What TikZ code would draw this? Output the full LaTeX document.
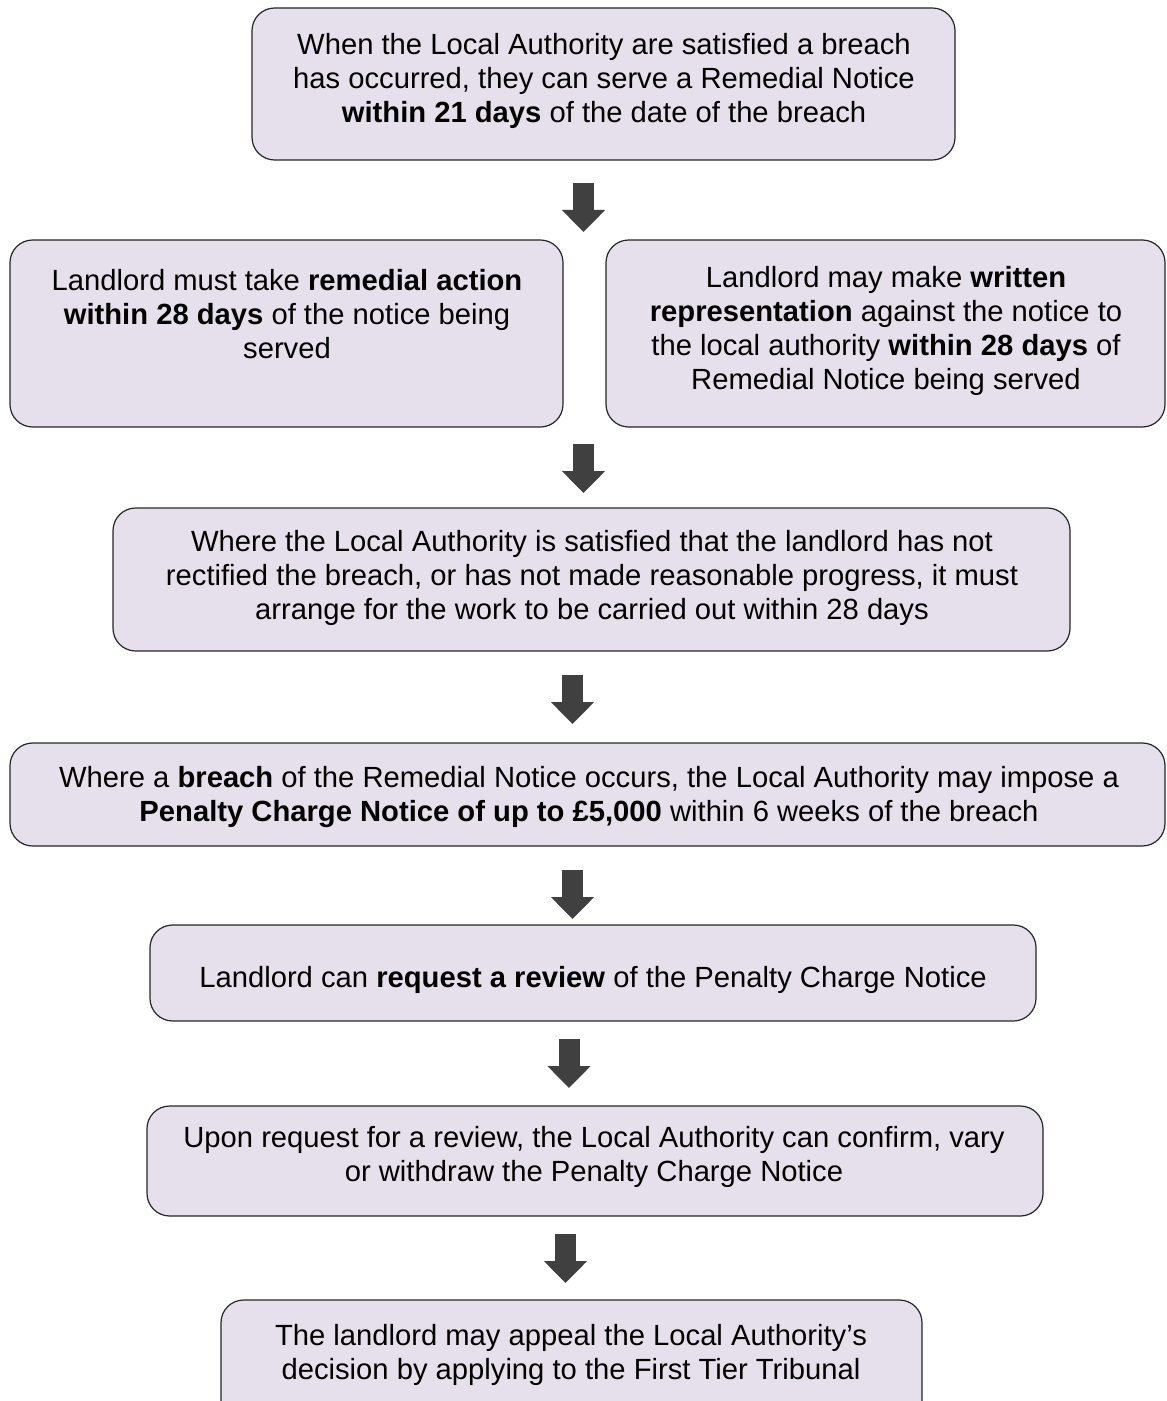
\documentclass[tikz,border=0pt]{standalone}
\usepackage{fontspec}
\setmainfont{Liberation Sans}
\usetikzlibrary{arrows.meta}
\definecolor{boxfill}{HTML}{E5E0EC}
\definecolor{arrowgray}{HTML}{404040}
\tikzset{
  flowbox/.style={draw=black!85, line width=0.9pt, fill=boxfill, rounded corners=17pt, inner sep=0pt},
  flowtext/.style={align=center, font=\fontsize{21.9pt}{25.5pt}\selectfont, inner sep=0pt},
  blockarrow/.style={line width=15.75pt, draw=arrowgray, fill=arrowgray, -{Triangle[length=16.5pt,width=31.5pt]}}
}
\begin{document}
\begin{tikzpicture}[x=0.75pt,y=-0.75pt]
\useasboundingbox (0,0) rectangle (1166,1401);
% boxes
\node[flowbox, minimum width=703*0.75pt, minimum height=152*0.75pt] (b1) at (603.5,84) {};
\node[flowbox, minimum width=553*0.75pt, minimum height=187*0.75pt] (b2a) at (286.5,333.5) {};
\node[flowbox, minimum width=559*0.75pt, minimum height=187*0.75pt] (b2b) at (885.5,333.5) {};
\node[flowbox, minimum width=957*0.75pt, minimum height=143*0.75pt] (b3) at (591.5,579.5) {};
\node[flowbox, minimum width=1155*0.75pt, minimum height=103*0.75pt] (b4) at (587.5,794.5) {};
\node[flowbox, minimum width=886*0.75pt, minimum height=96*0.75pt] (b5) at (593,973) {};
\node[flowbox, minimum width=896*0.75pt, minimum height=110*0.75pt] (b6) at (595,1161) {};
\node[flowbox, minimum width=701*0.75pt, minimum height=130*0.75pt] (b7) at (571.5,1365) {};
% texts
\node[flowtext] (t1) at (604,81) {When the Local Authority are satisfied a breach\\has occurred, they can serve a Remedial Notice\\\textbf{within 21 days} of the date of the breach};
\node[flowtext] (t2a) at (287,314) {Landlord must take \textbf{remedial action}\\\textbf{within 28 days} of the notice being\\served};
\node[flowtext] (t2b) at (886,331) {Landlord may make \textbf{written}\\\textbf{representation} against the notice to\\the local authority \textbf{within 28 days} of\\Remedial Notice being served};
\node[flowtext] (t3) at (592,578) {Where the Local Authority is satisfied that the landlord has not\\rectified the breach, or has not made reasonable progress, it must\\arrange for the work to be carried out within 28 days};
\node[flowtext] (t4) at (589,797) {Where a \textbf{breach} of the Remedial Notice occurs, the Local Authority may impose a\\\textbf{Penalty Charge Notice of up to £5,000} within 6 weeks of the breach};
\node[flowtext] (t5) at (593,980) {Landlord can \textbf{request a review} of the Penalty Charge Notice};
\node[flowtext] (t6) at (594,1157) {Upon request for a review, the Local Authority can confirm, vary\\or withdraw the Penalty Charge Notice};
\node[flowtext] (t7) at (571,1355) {The landlord may appeal the Local Authority’s\\decision by applying to the First Tier Tribunal};
% arrow end points
\coordinate (a1s) at (583.5,183); \coordinate (a1e) at (583.5,232);
\coordinate (a2s) at (583.5,444); \coordinate (a2e) at (583.5,493);
\coordinate (a3s) at (572.5,675); \coordinate (a3e) at (572.5,724);
\coordinate (a4s) at (572.5,870); \coordinate (a4e) at (572.5,919);
\coordinate (a5s) at (569,1039); \coordinate (a5e) at (569,1088);
\coordinate (a6s) at (565.5,1234); \coordinate (a6e) at (565.5,1283);
\draw[blockarrow] (a1s) -- (a1e);
\draw[blockarrow] (a2s) -- (a2e);
\draw[blockarrow] (a3s) -- (a3e);
\draw[blockarrow] (a4s) -- (a4e);
\draw[blockarrow] (a5s) -- (a5e);
\draw[blockarrow] (a6s) -- (a6e);
\end{tikzpicture}
\end{document}
